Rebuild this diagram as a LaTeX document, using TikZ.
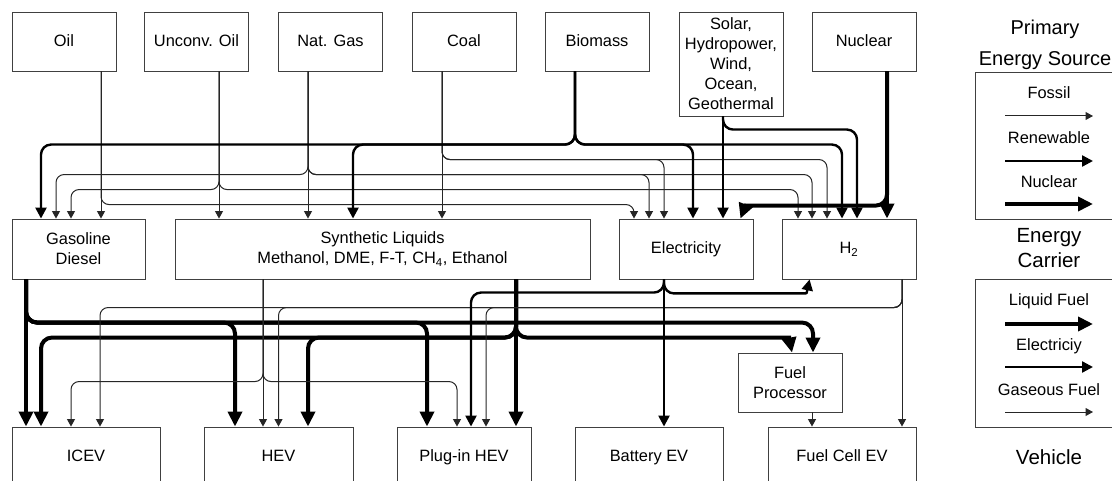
\documentclass[tikz,border=0pt]{standalone}
\usepackage{fontspec}
\setmainfont{Liberation Sans}
\usetikzlibrary{arrows.meta,positioning,calc}

\tikzset{
  box/.style={draw=black!75, line width=.9pt, minimum width=104pt, minimum height=59pt,
    align=center, inner sep=1pt, font=\fontsize{16.4}{20}\selectfont},
  sline/.style={text height=12pt, text depth=2.2pt},
  fossil/.style={line width=1pt, black!85, rounded corners=8pt, -{Triangle[length=7.5pt,width=8pt]}},
  renew/.style={line width=2.4pt, rounded corners=10pt, -{Triangle[length=11pt,width=11pt]}},
  nucl/.style={line width=4pt, rounded corners=11pt, -{Triangle[length=15pt,width=14pt]}},
  lbl/.style={font=\fontsize{16.4}{20}\selectfont, inner sep=0pt},
}

\begin{document}
\begin{tikzpicture}[x=1pt,y=-1pt]
    \path[use as bounding box] (0,0) rectangle (1112,481);
    \clip (0,0) rectangle (1112,481);

    \node[box, sline] (oil) at (64,41.5) {Oil};
    \node[box, sline] (unc) at (196.5,41.5) {Unconv. Oil};
    \node[box, sline] (ngas) at (330.5,41.5) {Nat. Gas};
    \node[box, sline] (coal) at (464,41.5) {Coal};
    \node[box, sline] (bio) at (597,41.5) {Biomass};
    \node[box, minimum height=104pt] (sol) at (731,64) {Solar,\\Hydropower,\\Wind,\\Ocean,\\Geothermal};
    \node[box, sline] (nuc) at (864,41.5) {Nuclear};

    \node[box, minimum width=133pt, minimum height=60pt] (gas) at (78.5,249) {Gasoline\\Diesel};
    \node[box, minimum width=415pt, minimum height=60pt] (syn) at (382.5,249) {Synthetic Liquids\\Methanol, DME, F-T, CH\textsubscript{4}, Ethanol};
    \node[box, sline, minimum width=134pt, minimum height=60pt] (elec) at (686,249) {Electricity};
    \node[box, sline, minimum width=134pt, minimum height=60pt] (hyd) at (849,249) {H\textsubscript{2}};

    \node[box] (fp) at (790,382.5) {Fuel\\Processor};

    \node[box, sline, minimum width=148pt, minimum height=60pt] (icev) at (86,457) {ICEV};
    \node[box, sline, minimum width=149pt, minimum height=60pt] (hev) at (278.5,457) {HEV};
    \node[box, sline, minimum width=134pt, minimum height=60pt] (phev) at (464,457) {Plug-in HEV};
    \node[box, sline, minimum width=148pt, minimum height=60pt] (bev) at (649,457) {Battery EV};
    \node[box, sline, minimum width=148pt, minimum height=60pt] (fcev) at (842,457) {Fuel Cell EV};

    \draw[fossil] ([xshift=37pt]oil.south) -- ([xshift=22.5pt]gas.north);
    \draw[fossil] ([xshift=37pt]oil.south) |- ([xshift=-52pt,yshift=14pt]elec.north) -- ([xshift=-52pt]elec.north);

    \draw[fossil] ([xshift=22.5pt]unc.south) -- ([xshift=-163.5pt]syn.north);
    \draw[fossil] ([xshift=22.5pt]unc.south) |- ([xshift=-7.5pt,yshift=29pt]gas.north) -- ([xshift=-7.5pt]gas.north);
    \draw[fossil] ([xshift=22.5pt]unc.south) |- ([xshift=-51pt,yshift=29pt]hyd.north) -- ([xshift=-51pt]hyd.north);

    \draw[fossil] ([xshift=-22.5pt]ngas.south) -- ([xshift=-74.5pt]syn.north);
    \draw[fossil] ([xshift=-22.5pt]ngas.south) |- ([xshift=-22.5pt,yshift=44pt]gas.north) -- ([xshift=-22.5pt]gas.north);
    \draw[fossil] ([xshift=-22.5pt]ngas.south) |- ([xshift=-37pt,yshift=44pt]elec.north) -- ([xshift=-37pt]elec.north);
    \draw[fossil] ([xshift=-22.5pt]ngas.south) |- ([xshift=-37pt,yshift=44pt]hyd.north) -- ([xshift=-37pt]hyd.north);

    \draw[fossil] ([xshift=-22pt]coal.south) -- ([xshift=59.5pt]syn.north);
    \draw[fossil] ([xshift=-22pt]coal.south) |- ([xshift=-22pt,yshift=59pt]elec.north) -- ([xshift=-22pt]elec.north);
    \draw[fossil] ([xshift=-22pt]coal.south) |- ([xshift=-22pt,yshift=59pt]hyd.north) -- ([xshift=-22pt]hyd.north);

    \draw[renew] ([xshift=-22pt]bio.south) |- ([xshift=-37.5pt,yshift=74pt]gas.north) -- ([xshift=-37.5pt]gas.north);
    \draw[renew] ([xshift=-22pt]bio.south) |- ([xshift=-29.5pt,yshift=74pt]syn.north) -- ([xshift=-29.5pt]syn.north);
    \draw[renew] ([xshift=-22pt]bio.south) |- ([xshift=7pt,yshift=74pt]elec.north) -- ([xshift=7pt]elec.north);
    \draw[renew] ([xshift=-22pt]bio.south) |- ([xshift=-7pt,yshift=74pt]hyd.north) -- ([xshift=-7pt]hyd.north);

    \draw[renew] ([xshift=-8pt]sol.south) -- ([xshift=37pt]elec.north);
    \draw[renew] ([xshift=-8pt]sol.south) |- ([xshift=8pt,yshift=89pt]hyd.north) -- ([xshift=8pt]hyd.north);

    \draw[nucl] ([xshift=23pt]nuc.south) -- ([xshift=38pt]hyd.north);
    \draw[nucl] ([xshift=23pt]nuc.south) |- ([xshift=2pt,yshift=13pt]elec.north east) .. controls ([xshift=-8pt,yshift=13pt]elec.north east) .. ([xshift=-13pt]elec.north east);

    \draw[nucl] ([xshift=-52.5pt]gas.south) -- ([xshift=-60pt]icev.north);
    \draw[nucl] ([xshift=-52.5pt]gas.south) |- ([xshift=-43.5pt,yshift=104pt]hev.north) -- ([xshift=-43.5pt]hev.north);
    \draw[nucl] ([xshift=-52.5pt]gas.south) |- ([xshift=-37pt,yshift=104pt]phev.north) -- ([xshift=-37pt]phev.north);
    \draw[nucl] ([xshift=-52.5pt]gas.south) |- ([xshift=23pt,yshift=30pt]fp.north) -- ([xshift=23pt]fp.north);

    \draw[nucl] ([xshift=133.5pt]syn.south) -- ([xshift=52pt]phev.north);
    \draw[nucl] ([xshift=133.5pt]syn.south) |- ([xshift=-45pt,yshift=89pt]icev.north) -- ([xshift=-45pt]icev.north);
    \draw[nucl] ([xshift=133.5pt]syn.south) |- ([xshift=29.5pt,yshift=89pt]hev.north) -- ([xshift=29.5pt]hev.north);
    \draw[nucl] ([xshift=133.5pt]syn.south) |- ([xshift=-10pt,yshift=15pt]fp.north) .. controls ([xshift=-1pt,yshift=15pt]fp.north) .. ([xshift=2pt]fp.north);

    \draw[fossil] ([xshift=-119.5pt]syn.south) -- ([xshift=-15.5pt]hev.north);
    \draw[fossil] ([xshift=-119.5pt]syn.south) |- ([xshift=-15pt,yshift=45pt]icev.north) -- ([xshift=-15pt]icev.north);
    \draw[fossil] ([xshift=-119.5pt]syn.south) |- ([xshift=-7pt,yshift=45pt]phev.north) -- ([xshift=-7pt]phev.north);

    \draw[fossil] ([xshift=53pt]hyd.south) -- ([xshift=60pt]fcev.north);
    \draw[fossil] ([xshift=53pt]hyd.south) |- ([xshift=14pt,yshift=119pt]icev.north) -- ([xshift=14pt]icev.north);
    \draw[fossil] ([xshift=53pt]hyd.south) |- ([yshift=119pt]hev.north) -- (hev.north);
    \draw[fossil] ([xshift=53pt]hyd.south) |- ([xshift=22pt,yshift=119pt]phev.north) -- ([xshift=22pt]phev.north);

    \draw[renew] ([xshift=-22pt]elec.south) -- ([xshift=15pt]bev.north);
    \draw[renew] ([xshift=-22pt]elec.south) |- ([xshift=7pt,yshift=134pt]phev.north) -- ([xshift=7pt]phev.north);
    \draw[renew] ([xshift=-22pt]elec.south) |- ([xshift=14pt,yshift=-14pt]hyd.south west) .. controls ([xshift=25pt,yshift=-14pt]hyd.south west) .. ([xshift=28pt]hyd.south west);

    \draw[fossil] ([xshift=22pt]fp.south) -- ([xshift=-30pt]fcev.north);

    \node[align=center, font=\fontsize{20}{31}\selectfont] (tprim) at (1045,45) {Primary\\Energy Source};
    \node[draw=black!75, line width=.9pt, minimum width=148pt, minimum height=147pt] (leg1) at (1049,145.5) {};
    \node[lbl] (lfos) at (1049,93) {Fossil};
    \node[lbl] (lren) at (1049,138) {Renewable};
    \node[lbl] (lnuc) at (1049,182) {Nuclear};
    \draw[fossil] ([xshift=-44pt,yshift=-23pt]lfos.center) -- ++(88,0);
    \draw[renew] ([xshift=-44pt,yshift=-23pt]lren.center) -- ++(88,0);
    \draw[nucl] ([xshift=-44pt,yshift=-22pt]lnuc.center) -- ++(88,0);

    \node[align=center, font=\fontsize{20.5}{25}\selectfont] (tcar) at (1049,248.5) {Energy\\Carrier};
    \node[draw=black!75, line width=.9pt, minimum width=148pt, minimum height=148pt] (leg2) at (1049,353) {};
    \node[lbl] (lliq) at (1049,301) {Liquid Fuel};
    \node[lbl] (lele) at (1049,346) {Electriciy};
    \node[lbl] (lgas) at (1049,390) {Gaseous Fuel};
    \draw[nucl] ([xshift=-44pt,yshift=-23pt]lliq.center) -- ++(88,0);
    \draw[renew] ([xshift=-44pt,yshift=-21pt]lele.center) -- ++(88,0);
    \draw[fossil] ([xshift=-44pt,yshift=-22pt]lgas.center) -- ++(88,0);

    \node[font=\fontsize{20.5}{25}\selectfont] (tveh) at (1049,457) {Vehicle};
\end{tikzpicture}
\end{document}
